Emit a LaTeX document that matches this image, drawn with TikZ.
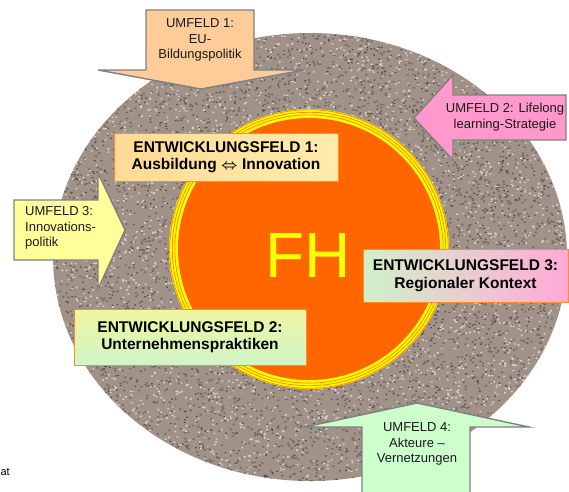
\documentclass[tikz,border=0pt]{standalone}
\usepackage{fontspec}
\setmainfont{Liberation Sans}
\definecolor{granite}{RGB}{160,146,136}
\definecolor{gdark}{RGB}{84,72,66}
\definecolor{gmid}{RGB}{120,108,100}
\definecolor{glight}{RGB}{218,210,202}
\definecolor{fhorange}{RGB}{255,102,0}
\definecolor{fhyellow}{RGB}{255,255,0}
\definecolor{ringorange}{RGB}{255,140,0}
\definecolor{arrgray}{RGB}{128,128,128}
\definecolor{u1fill}{RGB}{255,204,153}
\definecolor{u2fill}{RGB}{255,153,204}
\definecolor{u3fill}{RGB}{255,255,153}
\definecolor{u4fill}{RGB}{204,255,204}
\definecolor{efborder}{RGB}{255,140,40}
\tikzset{
  umarrow/.style={draw=arrgray, line width=1.4pt, line join=miter},
  umtext/.style={font=\fontsize{13}{15.5}\selectfont, text=black!90, inner sep=0pt},
  efbox/.style={draw=efborder, line width=1pt, minimum height=48pt, inner sep=2pt,
     align=center, font=\fontsize{15.5}{17.5}\selectfont\bfseries},
}
\begin{document}
\begin{tikzpicture}[x=1pt,y=-1pt]
\useasboundingbox (0,0) rectangle (569,491);
\fill[white] (0,0) rectangle (569,491);
% granite ellipse
\begin{scope}
\clip (310,257) ellipse [x radius=257pt, y radius=224pt];
\fill[granite] (40,20) rectangle (569,491);
\pgfmathsetseed{11}
\fill[gdark] \foreach \i in {1,...,3800}{ ({52+rnd*516},{32+rnd*450}) rectangle ++(1.5,1.2) };
\fill[gmid] \foreach \i in {1,...,3000}{ ({52+rnd*516},{32+rnd*450}) rectangle ++(2.2,1.6) };
\fill[glight] \foreach \i in {1,...,3800}{ ({52+rnd*516},{32+rnd*450}) rectangle ++(1.8,1.4) };
\end{scope}
% FH circle with ring
\coordinate (fhc) at (309,249);
\fill[fhyellow] (fhc) circle [radius=140pt];
\draw[ringorange, line width=0.8pt] (fhc) circle [radius=139.3pt];
\draw[ringorange, line width=0.8pt] (fhc) circle [radius=136.7pt];
\draw[ringorange, line width=0.8pt] (fhc) circle [radius=134.1pt];
\fill[fhorange] (fhc) circle [radius=131pt];
\node[font=\fontsize{64}{64}\selectfont, text=fhyellow] (fh) at (308,255) {FH};
% Umfeld arrows
\draw[umarrow, fill=u1fill] (146,10) -- (254,10) -- (254,70) -- (304,70) -- (201,89) -- (98,70) -- (146,70) -- cycle;
\node[umtext, align=center] (u1) at (200,40) {UMFELD 1:\\EU-\\Bildungspolitik};
\draw[umarrow, fill=u2fill] (566,95) -- (453,95) -- (453,75) -- (414,118) -- (453,160) -- (453,140) -- (566,140) -- cycle;
\node[umtext, align=center] (u2) at (505,117) {UMFELD 2: Lifelong\\learning-Strategie};
\draw[umarrow, fill=u3fill] (14,200) -- (98,200) -- (98,173) -- (125,230) -- (98,289) -- (98,260) -- (14,260) -- cycle;
\node[umtext, align=left, anchor=west] (u3) at (25,228) {UMFELD 3:\\Innovations-\\politik};
\draw[umarrow, fill=u4fill] (362,496) -- (362,427) -- (305,427) -- (417,403) -- (529,427) -- (470,427) -- (470,496);
\node[umtext, align=center] (u4) at (417,444) {UMFELD 4:\\Akteure --\\Vernetzungen};
% Entwicklungsfelder
\node[efbox, minimum width=224pt, left color={rgb,255:red,255;green,218;blue,150}, right color={rgb,255:red,255;green,236;blue,170}] (ef1) at (226,157)
  {ENTWICKLUNGSFELD 1:\\Ausbildung {\boldmath$\Leftrightarrow$} Innovation};
\node[efbox, minimum width=232pt, minimum height=56pt, shading angle=135, top color={rgb,255:red,240;green,245;blue,160}, bottom color={rgb,255:red,208;green,245;blue,200}] (ef2) at (190,337)
  {ENTWICKLUNGSFELD 2:\\Unternehmenspraktiken};
\node[efbox, minimum width=205pt, minimum height=53pt, left color={rgb,255:red,210;green,240;blue,200}, right color={rgb,255:red,255;green,170;blue,215}] (ef3) at (465.5,275.5)
  {ENTWICKLUNGSFELD 3:\\Regionaler Kontext};
\node[font=\fontsize{11}{13}\selectfont, anchor=base east, inner sep=0pt] (src) at (10,475) {at};
\end{tikzpicture}
\end{document}
